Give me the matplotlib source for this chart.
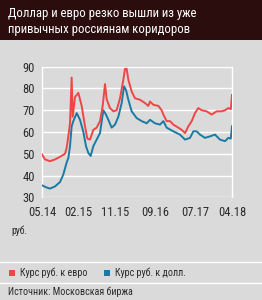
import matplotlib
matplotlib.use('AGG')
import matplotlib.pyplot as plt
import numpy as np

# months since 05.2014
eur_m = [0, 0.74, 1.98, 3.22, 4.45, 5.69, 6.10, 6.51, 6.93, 7.34, 7.59, 8.16, 8.99, 9.81, 10.64,
         11.21, 11.87, 12.70, 13.52, 14.35, 15.01, 15.59, 16.00, 16.82, 17.65, 18.47, 19.30, 20.12,
         20.53, 20.95, 21.36, 22.18, 23.01, 24.24, 25.48, 26.30, 26.72, 27.54, 28.78, 29.60, 30.02,
         30.84, 31.67, 32.49, 33.73, 34.55, 35.38, 36.20, 37.03, 37.85, 38.67, 39.50, 40.73, 41.97,
         43.21, 44.44, 45.27, 46.09, 46.7, 47.0]
eur_v = [49.7, 47.4, 46.6, 47.4, 48.6, 50.0, 52.7, 58.0, 64.0, 85.0, 67.0, 76.0, 78.0, 72.0, 62.6,
         57.0, 56.5, 61.0, 62.0, 65.0, 72.0, 82.0, 75.0, 71.0, 69.5, 70.0, 75.5, 84.0,
         89.0, 89.0, 84.0, 78.6, 75.5, 74.8, 73.3, 72.0, 74.0, 72.5, 72.0, 70.0, 68.0,
         65.0, 65.0, 63.4, 62.0, 61.0, 59.5, 62.6, 65.0, 68.7, 71.0, 70.0, 69.5, 68.0,
         69.5, 69.5, 70.0, 71.0, 70.5, 77.0]

usd_m = [0, 1.15, 1.98, 3.22, 4.45, 5.28, 6.10, 6.51, 6.93, 7.34, 7.75, 8.58, 9.40, 10.23, 10.88,
         11.46, 12.04, 12.70, 13.52, 14.35, 15.17, 15.83, 16.41, 17.23, 18.06, 18.88, 19.71, 20.29,
         20.78, 21.36, 22.18, 23.42, 24.65, 25.89, 26.72, 27.95, 29.19, 30.02, 30.84, 32.49, 34.14,
         35.38, 36.61, 37.44, 38.26, 39.09, 40.32, 41.56, 42.80, 44.03, 45.27, 46.09, 46.7, 47.0]
usd_v = [35.5, 34.5, 34.0, 35.0, 37.0, 40.5, 46.0, 48.0, 53.5, 62.6, 65.0, 68.7, 65.6, 60.0, 53.5,
         50.4, 49.0, 53.5, 56.5, 59.5, 70.0, 68.0, 65.6, 62.0, 63.4, 67.0, 73.3, 81.0,
         79.3, 74.8, 69.5, 66.4, 65.0, 64.0, 65.6, 64.0, 63.4, 65.0, 62.0, 60.3, 58.8,
         56.5, 57.3, 60.3, 60.3, 58.8, 57.3, 58.0, 58.8, 56.5, 55.8, 57.3, 57.0, 62.6]

xticks = [0, 9, 18, 28, 38, 47]
xlabels = ['05.14', '02.15', '11.15', '09.16', '07.17', '04.18']
yticks = [30, 40, 50, 60, 70, 80, 90]

red = '#ef4643'
blue = '#1a7aa3'
bg = '#dadada'
txt = '#2a2a2a'
font = ['Roboto Condensed', 'Liberation Sans Narrow', 'Arial Narrow', 'Roboto', 'DejaVu Sans']

fig = plt.figure(figsize=(2.62, 3.0), dpi=100, facecolor=bg)

# title band
fig.patches.append(plt.Rectangle((0, 1 - 40 / 300), 1, 40 / 300, transform=fig.transFigure,
                                 facecolor='#2b0d0d', edgecolor='none', zorder=0))
fig.text(8 / 262, 1 - 14 / 300, 'Доллар и евро резко вышли из уже', color='white',
         fontsize=9.2, family=font, va='center')
fig.text(8 / 262, 1 - 30 / 300, 'привычных россиянам коридоров', color='white',
         fontsize=9.2, family=font, va='center')

ax = fig.add_axes([42 / 262, 1 - 197.3 / 300, 190 / 262, 130.6 / 300])
ax.set_facecolor(bg)
ax.plot(usd_m, usd_v, color=blue, lw=1.4, zorder=3)
ax.plot(eur_m, eur_v, color=red, lw=1.4, zorder=4)
ax.set_xlim(0, 47)
ax.set_ylim(30, 90)
ax.set_yticks(yticks)
ax.set_xticks(xticks)
ax.set_xticklabels(xlabels)
ax.grid(axis='y', color='white', lw=1)
ax.set_axisbelow(True)
for s in ['top', 'bottom']:
    ax.spines[s].set_visible(False)
for s in ['left', 'right']:
    ax.spines[s].set_color('white')
    ax.spines[s].set_linewidth(1)
ax.tick_params(length=0, labelsize=9, colors=txt, pad=5)
for lab in ax.get_xticklabels() + ax.get_yticklabels():
    lab.set_family(font)
ax.tick_params(axis='x', pad=6)

fig.text(11 / 262, 1 - 231 / 300, 'руб.', fontsize=7, family=font, color=txt, va='center')

# separators
for yy in [262, 283]:
    fig.add_artist(plt.Line2D([0, 1], [1 - yy / 300] * 2, color='white', lw=1,
                              transform=fig.transFigure))

fig.patches.append(plt.Rectangle((9 / 262, 1 - 276 / 300), 6 / 262, 6 / 300, transform=fig.transFigure,
                                 facecolor=red, edgecolor='none'))
fig.text(20 / 262, 1 - 273 / 300, 'Курс руб. к евро', fontsize=7.2, family=font, color=txt, va='center')
fig.patches.append(plt.Rectangle((104 / 262, 1 - 276 / 300), 6 / 262, 6 / 300, transform=fig.transFigure,
                                 facecolor=blue, edgecolor='none'))
fig.text(115 / 262, 1 - 273 / 300, 'Курс руб. к долл.', fontsize=7.2, family=font, color=txt, va='center')
fig.text(8 / 262, 1 - 292 / 300, 'Источник: Московская биржа', fontsize=7.2, family=font, color=txt, va='center')

plt.savefig('out.png', dpi=100, facecolor=bg)
